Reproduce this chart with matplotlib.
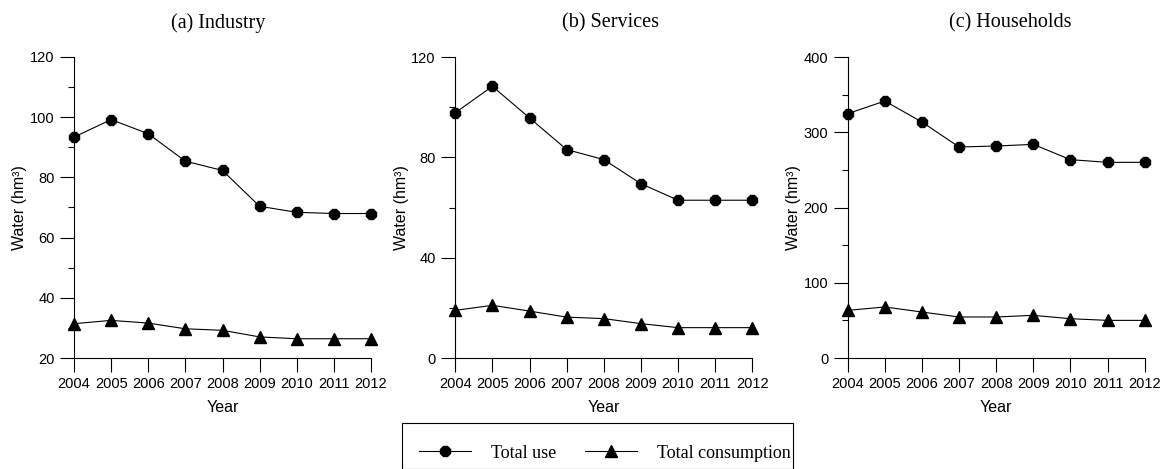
import numpy as np
import matplotlib.pyplot as plt
from matplotlib.patches import Rectangle
from matplotlib.ticker import MultipleLocator
from matplotlib.lines import Line2D

years = [2004, 2005, 2006, 2007, 2008, 2009, 2010, 2011, 2012]

industry_use = [93.4, 99.2, 94.5, 85.4, 82.3, 70.4, 68.4, 68.0, 68.0]
industry_cons = [31.4, 32.5, 31.6, 29.7, 29.2, 27.0, 26.4, 26.4, 26.4]

services_use = [97.8, 108.3, 95.7, 83.1, 79.1, 69.5, 62.9, 62.9, 62.9]
services_cons = [19.0, 21.0, 18.7, 16.3, 15.7, 13.7, 12.1, 12.1, 12.1]

households_use = [324.7, 341.5, 313.6, 280.4, 281.7, 283.9, 263.6, 260.0, 260.0]
households_cons = [63.3, 67.8, 61.1, 54.5, 54.5, 56.7, 52.2, 50.0, 50.0]

titles = ["(a) Industry", "(b) Services", "(c) Households"]
title_x = [0.487, 0.521, 0.547]
ylims = [(20, 120), (0, 120), (0, 400)]
major_steps = [20, 40, 100]
minor_steps = [10, 20, 50]

plt.rcParams['font.family'] = ['Liberation Sans', 'DejaVu Sans']

W, H = 1168, 469
fig = plt.figure(figsize=(W / 100, H / 100), dpi=100)

lefts = [74, 455.3, 847.7]
ax_w = 297
ax_bottom = 358
ax_top = 57

series = [(industry_use, industry_cons),
          (services_use, services_cons),
          (households_use, households_cons)]

for i, (use, cons) in enumerate(series):
    ax = fig.add_axes([lefts[i] / W, 1 - ax_bottom / H, ax_w / W, (ax_bottom - ax_top) / H])
    ax.plot(years, use, color='black', lw=0.8, marker='8', ms=8.5,
            clip_on=False, zorder=3)
    ax.plot(years, cons, color='black', lw=0.8, marker='^', ms=8,
            clip_on=False, zorder=3)
    ax.set_xlim(2004, 2012)
    ax.set_ylim(*ylims[i])
    ax.set_xticks(years)
    ax.set_xticklabels([str(y) for y in years])
    ax.yaxis.set_major_locator(MultipleLocator(major_steps[i]))
    ax.yaxis.set_minor_locator(MultipleLocator(minor_steps[i]))
    for s in ['top', 'right']:
        ax.spines[s].set_visible(False)
    for s in ['left', 'bottom']:
        ax.spines[s].set_linewidth(0.8)
    ax.tick_params(axis='both', which='major', direction='out', length=10,
                   width=0.8, labelsize=10.5, pad=4)
    ax.tick_params(axis='y', which='minor', direction='out', length=4.5, width=0.8)
    ax.set_xlabel("Year", fontsize=11.5, labelpad=6)
    ax.set_ylabel("Water (hm³)", fontsize=11.5, labelpad=2)
    ax.text(title_x[i], 1 + 34 / (ax_bottom - ax_top), titles[i],
            transform=ax.transAxes, ha='center', va='center',
            family='Liberation Serif', fontsize=14.5)

# legend with a square frame running off the bottom edge
fig.patches.append(Rectangle((401.5 / W, 0), (793 - 401.5) / W, (H - 423) / H,
                             transform=fig.transFigure, fill=False,
                             edgecolor='black', lw=0.8))
handles = [Line2D([], [], color='black', lw=0.8, marker='8', ms=8.5),
           Line2D([], [], color='black', lw=0.8, marker='^', ms=8)]
fig.legend(handles, ["Total use", "Total consumption"], ncol=2,
           loc='center left', bbox_to_anchor=(406 / W, 1 - 453 / H),
           frameon=False, prop={'family': 'Liberation Serif', 'size': 13},
           handlelength=2.9, handletextpad=1.1, columnspacing=1.6,
           borderpad=0.2)

fig.savefig("out.png", dpi=100)
